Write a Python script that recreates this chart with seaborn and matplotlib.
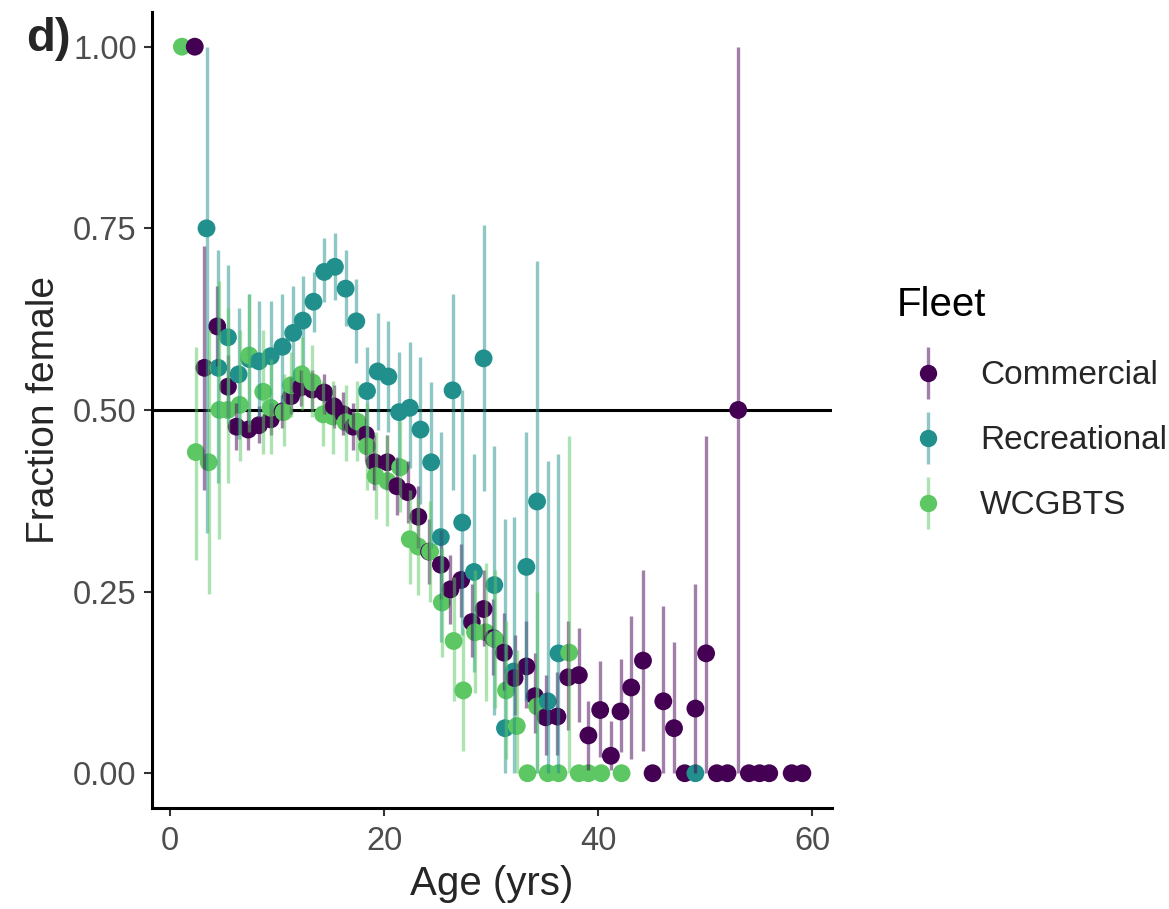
import matplotlib
matplotlib.use("Agg")
import matplotlib.pyplot as plt
from matplotlib.lines import Line2D
import numpy as np
import pandas as pd
import seaborn as sns

# ---- data (age, fraction female, interval) ----
com_age = [2.3, 3.2, 4.4, 5.4, 6.2, 7.3, 8.3, 9.4, 10.5, 11.3, 12.2, 13.3, 14.4, 15.3,
           16.2, 17.1, 18.3, 19.1, 20.3, 21.2, 22.2, 23.2, 24.2, 25.3, 26.2, 27.2, 28.2,
           29.3, 30.2, 31.2, 32.2, 33.3, 34.1, 35.1, 36.2, 37.2, 38.2, 39.1, 40.2, 41.2,
           42.1, 43.1, 44.2, 45.1, 46.1, 47.1, 48.1, 49.1, 50.1, 51.1, 52.1, 53.1, 54.1,
           55.1, 56.0, 58.1, 59.1]
com_frac = [1.00, 0.558, 0.615, 0.532, 0.477, 0.473, 0.479, 0.487, 0.498, 0.519, 0.531,
            0.528, 0.524, 0.505, 0.494, 0.477, 0.466, 0.428, 0.428, 0.395, 0.387, 0.353,
            0.305, 0.287, 0.253, 0.266, 0.208, 0.226, 0.186, 0.166, 0.131, 0.147, 0.106,
            0.077, 0.078, 0.132, 0.135, 0.052, 0.087, 0.024, 0.085, 0.118, 0.155, 0.0,
            0.099, 0.062, 0.0, 0.089, 0.165, 0.0, 0.0, 0.50, 0.0, 0.0, 0.0, 0.0, 0.0]
com_lo = [1.00, 0.39, 0.56, 0.49, 0.445, 0.445, 0.455, 0.465, 0.475, 0.495, 0.505, 0.50,
          0.495, 0.475, 0.465, 0.445, 0.43, 0.39, 0.39, 0.355, 0.345, 0.31, 0.26, 0.24,
          0.205, 0.215, 0.16, 0.175, 0.135, 0.115, 0.08, 0.09, 0.055, 0.025, 0.025, 0.06,
          0.07, 0.005, 0.022, 0.005, 0.029, 0.019, 0.03, 0.0, 0.0, 0.0, 0.0, 0.0, 0.0,
          0.0, 0.0, 0.0, 0.0, 0.0, 0.0, 0.0, 0.0]
com_hi = [1.00, 0.725, 0.67, 0.575, 0.51, 0.50, 0.505, 0.51, 0.52, 0.545, 0.555, 0.555,
          0.55, 0.535, 0.525, 0.51, 0.50, 0.465, 0.465, 0.435, 0.43, 0.395, 0.35, 0.335,
          0.30, 0.315, 0.26, 0.28, 0.24, 0.22, 0.19, 0.21, 0.165, 0.135, 0.14, 0.21, 0.20,
          0.10, 0.154, 0.072, 0.157, 0.216, 0.28, 0.0, 0.23, 0.18, 0.0, 0.26, 0.464, 0.0,
          0.0, 1.00, 0.0, 0.0, 0.0, 0.0, 0.0]

rec_age = [3.4, 4.5, 5.4, 6.4, 7.4, 8.3, 9.4, 10.5, 11.5, 12.4, 13.4, 14.4, 15.4, 16.4,
           17.4, 18.4, 19.4, 20.4, 21.4, 22.4, 23.4, 24.4, 25.3, 26.4, 27.3, 28.4, 29.3,
           30.3, 31.3, 32.1, 33.3, 34.3, 35.3, 36.3, 49.1]
rec_frac = [0.75, 0.558, 0.60, 0.549, 0.57, 0.567, 0.574, 0.587, 0.606, 0.623, 0.649,
            0.69, 0.697, 0.667, 0.622, 0.526, 0.553, 0.546, 0.497, 0.503, 0.473, 0.428,
            0.325, 0.527, 0.345, 0.277, 0.571, 0.259, 0.062, 0.14, 0.284, 0.374, 0.099,
            0.165, 0.0]
rec_lo = [0.33, 0.40, 0.48, 0.46, 0.48, 0.49, 0.50, 0.51, 0.54, 0.56, 0.607, 0.648,
          0.652, 0.615, 0.565, 0.463, 0.473, 0.469, 0.41, 0.42, 0.37, 0.31, 0.18, 0.39,
          0.19, 0.139, 0.388, 0.08, 0.0, 0.0, 0.10, 0.0, 0.0, 0.0, 0.0]
rec_hi = [1.00, 0.72, 0.70, 0.64, 0.66, 0.65, 0.65, 0.66, 0.67, 0.685, 0.69, 0.737,
          0.744, 0.72, 0.68, 0.587, 0.634, 0.622, 0.58, 0.593, 0.573, 0.538, 0.47, 0.66,
          0.528, 0.44, 0.755, 0.45, 0.35, 0.352, 0.47, 0.705, 0.43, 0.44, 0.0]

wcg_age = [1.1, 2.4, 3.6, 4.6, 5.4, 6.5, 7.4, 8.7, 9.4, 10.6, 11.3, 12.3, 13.3, 14.3,
           15.2, 16.4, 17.5, 18.4, 19.2, 20.3, 21.5, 22.4, 23.2, 24.3, 25.4, 26.5, 27.4,
           28.5, 29.5, 30.4, 31.4, 32.4, 33.4, 34.3, 35.3, 36.3, 37.3, 38.2, 39.1, 40.3,
           42.2]
wcg_frac = [1.00, 0.442, 0.428, 0.50, 0.50, 0.507, 0.575, 0.525, 0.503, 0.497, 0.534,
            0.549, 0.538, 0.494, 0.491, 0.483, 0.484, 0.45, 0.409, 0.402, 0.421, 0.322,
            0.312, 0.305, 0.235, 0.182, 0.114, 0.194, 0.194, 0.184, 0.114, 0.065, 0.0,
            0.092, 0.0, 0.0, 0.166, 0.0, 0.0, 0.0, 0.0]
wcg_lo = [1.00, 0.294, 0.246, 0.322, 0.40, 0.43, 0.47, 0.44, 0.44, 0.45, 0.49, 0.50,
          0.49, 0.45, 0.44, 0.43, 0.43, 0.39, 0.35, 0.34, 0.36, 0.26, 0.245, 0.235, 0.16,
          0.10, 0.03, 0.11, 0.10, 0.09, 0.02, 0.0, 0.0, 0.0, 0.0, 0.0, 0.0, 0.0, 0.0,
          0.0, 0.0]
wcg_hi = [1.00, 0.587, 0.61, 0.677, 0.64, 0.61, 0.66, 0.61, 0.57, 0.55, 0.58, 0.60,
          0.59, 0.54, 0.54, 0.535, 0.54, 0.51, 0.47, 0.465, 0.485, 0.39, 0.38, 0.375,
          0.31, 0.27, 0.20, 0.28, 0.29, 0.28, 0.21, 0.17, 0.0, 0.25, 0.0, 0.0, 0.464,
          0.0, 0.0, 0.0, 0.0]

fleets = ["Commercial", "Recreational", "WCGBTS"]
colors = ["#440154", "#21908C", "#5DC863"]

frames = []
for fleet, a, f, lo, hi in [
    ("Commercial", com_age, com_frac, com_lo, com_hi),
    ("Recreational", rec_age, rec_frac, rec_lo, rec_hi),
    ("WCGBTS", wcg_age, wcg_frac, wcg_lo, wcg_hi),
]:
    frames.append(pd.DataFrame({"age": a, "frac": f, "lo": lo, "hi": hi, "Fleet": fleet}))
df = pd.concat(frames).sort_values("age", kind="stable").reset_index(drop=True)

sns.set_theme(style="ticks")
plt.rcParams["font.family"] = ["Liberation Sans", "DejaVu Sans"]

fig = plt.figure(figsize=(11.69, 9.09), dpi=100)
ax = fig.add_axes([0.130, 0.111, 0.582, 0.876])

ax.axhline(0.5, color="black", linewidth=2.2, zorder=1)
sns.scatterplot(
    data=df, x="age", y="frac", hue="Fleet", hue_order=fleets, palette=colors,
    s=165, linewidth=0, alpha=1, legend=False, ax=ax, zorder=2,
)
for fleet, c in zip(fleets, colors):
    sub = df[df["Fleet"] == fleet]
    ax.vlines(sub["age"], sub["lo"], sub["hi"], color=c, alpha=0.5, linewidth=2.4, zorder=3)

ax.set_xlim(-1.7, 61.9)
ax.set_ylim(-0.048, 1.048)
ax.set_xticks([0, 20, 40, 60])
ax.set_yticks([0, 0.25, 0.5, 0.75, 1.0])
ax.set_yticklabels(["0.00", "0.25", "0.50", "0.75", "1.00"])
ax.tick_params(labelsize=23.5, labelcolor="#4D4D4D", color="#333333", length=6, width=1.5, pad=5)
ax.tick_params(axis="x", pad=7)
ax.set_xlabel("Age (yrs)", fontsize=29, labelpad=6)
ax.set_ylabel("Fraction female", fontsize=28, labelpad=8)
sns.despine(ax=ax)
for sp in ["left", "bottom"]:
    ax.spines[sp].set_linewidth(2.2)
    ax.spines[sp].set_color("black")

handles = [
    (Line2D([], [], marker="|", markersize=38, markeredgewidth=2.4, color=c, alpha=0.5, linestyle="none"),
     Line2D([], [], marker="o", markersize=12.5, color=c, markeredgewidth=0, linestyle="none"))
    for c in colors
]
leg = fig.legend(
    handles, fleets, loc="center left", bbox_to_anchor=(0.7656, 0.5149),
    frameon=False, fontsize=24, labelspacing=1.02, handlelength=1.2,
    handletextpad=0.95, borderaxespad=0,
)
fig.text(0.767, 0.6645, "Fleet", fontsize=29, va="center", ha="left", color="black")

fig.text(0.022, 0.957, "d)", fontsize=34, fontweight="bold", va="center", ha="left")

fig.savefig("out.png", dpi=100)
